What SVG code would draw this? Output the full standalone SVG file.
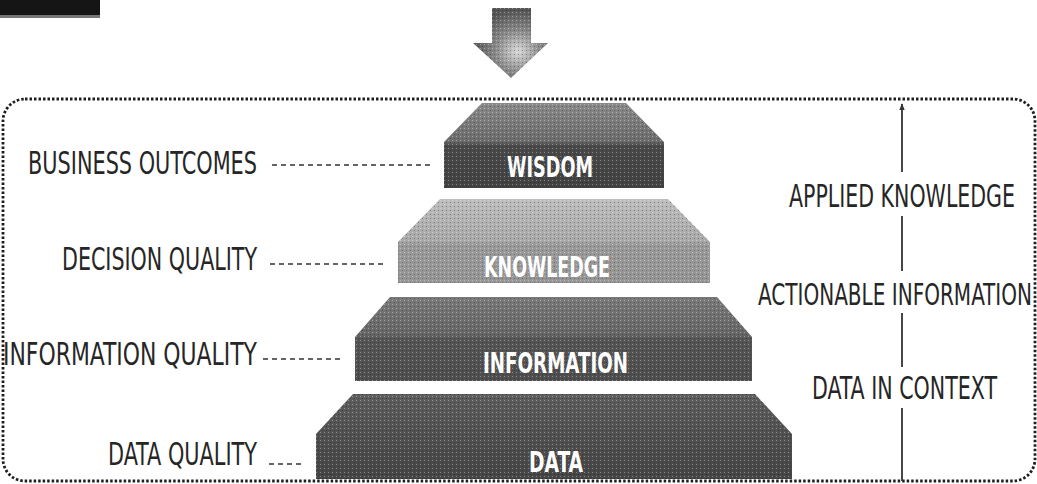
<svg xmlns="http://www.w3.org/2000/svg" width="1037" height="484" viewBox="0 0 1037 484">
<style>
.lbl{font-family:"Liberation Sans Narrow","DejaVu Sans Condensed","Liberation Sans",Arial,sans-serif;font-size:23px;fill:#262626;}
.blk{font-family:"Liberation Sans Narrow","DejaVu Sans Condensed","Liberation Sans",Arial,sans-serif;font-size:29px;font-weight:bold;fill:#ffffff;}
.lead{stroke:#333;stroke-width:1.6;stroke-dasharray:5 4;fill:none;}
.vline{stroke:#333;stroke-width:1.8;fill:none;}
.border{fill:none;stroke:#1e1e1e;stroke-width:2.8;stroke-dasharray:2.5 2;}
.tex{fill:url(#dots);}
</style>
<defs>
<pattern id="dots" width="4" height="4" patternUnits="userSpaceOnUse">
<rect x="0" y="0" width="1" height="1" fill="#ffffff" opacity="0.35"/>
<rect x="2" y="2" width="1" height="1" fill="#000000" opacity="0.3"/>
</pattern>
<linearGradient id="gWis" x1="0" y1="0" x2="0" y2="1">
<stop offset="0" stop-color="#8a8a8a"/><stop offset="0.45" stop-color="#6c6c6c"/><stop offset="0.5" stop-color="#4a4a4a"/><stop offset="1" stop-color="#424242"/>
</linearGradient>
<linearGradient id="gKno" x1="0" y1="0" x2="0" y2="1">
<stop offset="0" stop-color="#bdbdbd"/><stop offset="0.5" stop-color="#a9a9a9"/><stop offset="0.55" stop-color="#9a9a9a"/><stop offset="1" stop-color="#959595"/>
</linearGradient>
<linearGradient id="gInf" x1="0" y1="0" x2="0" y2="1">
<stop offset="0" stop-color="#7a7a7a"/><stop offset="0.45" stop-color="#666"/><stop offset="0.5" stop-color="#555"/><stop offset="1" stop-color="#4e4e4e"/>
</linearGradient>
<linearGradient id="gDat" x1="0" y1="0" x2="0" y2="1">
<stop offset="0" stop-color="#5e5e5e"/><stop offset="0.5" stop-color="#505050"/><stop offset="1" stop-color="#454545"/>
</linearGradient>
<radialGradient id="gArr" cx="0.6" cy="0.62" r="0.6">
<stop offset="0" stop-color="#d8d8d8"/><stop offset="0.5" stop-color="#8a8a8a"/><stop offset="1" stop-color="#555"/>
</radialGradient>
<marker id="ah" viewBox="0 0 10 10" refX="9" refY="5" markerWidth="7" markerHeight="7" orient="auto" markerUnits="userSpaceOnUse">
<path d="M0,1 L10,5 L0,9 Z" fill="#333"/>
</marker>
</defs>

<g id="corner-tab">
<rect x="0" y="0" width="100" height="15" fill="#151515"/>
<rect x="0" y="15" width="100" height="3" fill="#777"/>
</g>

<g id="top-arrow">
<path d="M492,8 H531 V43 H548 L511,78 L473,43 H492 Z" fill="url(#gArr)"/>
<path d="M492,8 H531 V43 H548 L511,78 L473,43 H492 Z" class="tex"/>
</g>

<rect id="frame" class="border" x="3" y="99" width="1032" height="382" rx="22" ry="22"/>

<g id="wisdom">
<path d="M482,103 H626 L664,142 V188 H444 V142 Z" fill="url(#gWis)"/>
<path d="M482,103 H626 L664,142 V188 H444 V142 Z" class="tex"/>
<text class="blk" x="507" y="177" textLength="86" lengthAdjust="spacingAndGlyphs">WISDOM</text>
</g>

<g id="knowledge">
<path d="M440,199 H668 L710,242 V283 H398 V242 Z" fill="url(#gKno)"/>
<path d="M440,199 H668 L710,242 V283 H398 V242 Z" class="tex"/>
<text class="blk" x="484" y="277" textLength="126" lengthAdjust="spacingAndGlyphs">KNOWLEDGE</text>
</g>

<g id="information">
<path d="M390,297 H717 L752,337 V381 H355 V337 Z" fill="url(#gInf)"/>
<path d="M390,297 H717 L752,337 V381 H355 V337 Z" class="tex"/>
<text class="blk" x="483" y="373" textLength="145" lengthAdjust="spacingAndGlyphs">INFORMATION</text>
</g>

<g id="data">
<path d="M353,394 H755 L792,434 V479 H316 V434 Z" fill="url(#gDat)"/>
<path d="M353,394 H755 L792,434 V479 H316 V434 Z" class="tex"/>
<text class="blk" x="529" y="472" textLength="54" lengthAdjust="spacingAndGlyphs">DATA</text>
</g>

<g id="label-business-outcomes"><text class="lbl" transform="translate(28,174) scale(1,1.35)" textLength="229" lengthAdjust="spacingAndGlyphs">BUSINESS OUTCOMES</text></g>
<g id="label-decision-quality"><text class="lbl" transform="translate(62,270) scale(1,1.35)" textLength="195" lengthAdjust="spacingAndGlyphs">DECISION QUALITY</text></g>
<g id="label-information-quality"><text class="lbl" transform="translate(3,365) scale(1,1.35)" textLength="254" lengthAdjust="spacingAndGlyphs">INFORMATION QUALITY</text></g>
<g id="label-data-quality"><text class="lbl" transform="translate(108,465) scale(1,1.35)" textLength="149" lengthAdjust="spacingAndGlyphs">DATA QUALITY</text></g>

<g id="label-applied-knowledge"><text class="lbl" transform="translate(789,207) scale(1,1.35)" textLength="226" lengthAdjust="spacingAndGlyphs">APPLIED KNOWLEDGE</text></g>
<g id="label-actionable-information"><text class="lbl" style="font-size:22px" transform="translate(758,305) scale(1,1.41)" textLength="274" lengthAdjust="spacingAndGlyphs">ACTIONABLE INFORMATION</text></g>
<g id="label-data-in-context"><text class="lbl" transform="translate(812,399) scale(1,1.35)" textLength="185" lengthAdjust="spacingAndGlyphs">DATA IN CONTEXT</text></g>

<g id="connectors">
<line class="lead" x1="272" y1="165" x2="432" y2="165"/>
<line class="lead" x1="270" y1="264" x2="384" y2="264"/>
<line class="lead" x1="263" y1="359" x2="344" y2="359"/>
<line class="lead" x1="269" y1="464" x2="305" y2="464"/>
<line class="vline" x1="902" y1="172" x2="902" y2="104" marker-end="url(#ah)"/>
<line class="vline" x1="902" y1="216" x2="902" y2="271"/>
<line class="vline" x1="902" y1="313" x2="902" y2="367"/>
<line class="vline" x1="902" y1="408" x2="902" y2="481"/>
</g>
</svg>
